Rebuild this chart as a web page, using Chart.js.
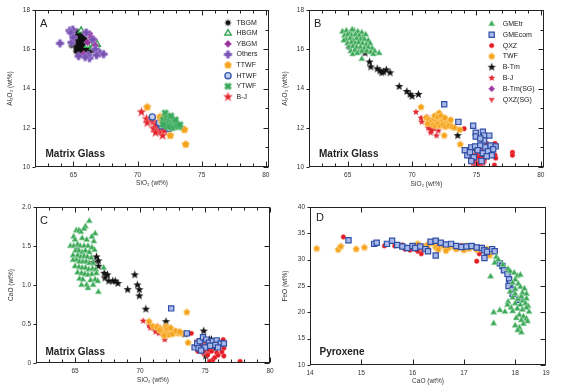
<!DOCTYPE html>
<html>
<head>
<meta charset="utf-8">
<script src="https://cdn.jsdelivr.net/npm/chart.js@4.4.0/dist/chart.umd.min.js"></script>
<style>
  body { margin: 0; background: #fff; }
  #wrap { position: relative; width: 567px; height: 387px; overflow: hidden; background: #fff; }
  canvas { position: absolute; }
</style>
</head>
<body>
<div id="wrap">
  <canvas id="chartA" width="283" height="193" style="left:0;top:0"></canvas>
  <canvas id="chartB" width="291" height="193" style="left:276px;top:0"></canvas>
  <canvas id="chartC" width="283" height="194" style="left:0;top:193px"></canvas>
  <canvas id="chartD" width="291" height="194" style="left:276px;top:193px"></canvas>
</div>
<script>
// ---- tick values / labels ----
const sio2Ticks = [65, 70, 75, 80];
const al2o3Ticks = [10, 12, 14, 16, 18];
const caoGlassTicks = [0, 0.5, 1.0, 1.5, 2.0];
const caoGlassLabels = ['0', '0.5', '1.0', '1.5', '2.0'];
const caoPyxTicks = [14, 15, 16, 17, 18, 18.6];
const caoPyxLabels = ['14', '15', '16', '17', '18', '19'];
const feoTicks = [10, 15, 20, 25, 30, 35, 40];

// ---- panel A: SiO2 vs Al2O3 (matrix glass) ----
const aTBGM = [[65.3,16.9],[65.5,16.8],[65.2,16.7],[65.6,16.7],[65.4,16.6],[65.8,16.6],[65.3,16.5],[65.6,16.5],[65.9,16.5],[65.2,16.4],[65.5,16.4],[65.7,16.4],[66.4,16.45],[65.3,16.3],[65.6,16.3],[65.9,16.3],[64.85,16.2],[65.4,16.2],[65.7,16.2],[66.0,16.2],[65.2,16.1],[65.5,16.1],[65.8,16.1],[66.1,16.1],[65.3,16.0],[65.6,16.0],[65.9,16.0],[66.2,16.0],[65.2,15.9],[65.5,15.9],[65.8,15.9],[66.3,15.9],[65.4,15.8],[65.7,15.8],[66.0,15.8],[65.6,15.75],[66.6,15.95],[65.1,16.55]];
const aHBGM = [[65.6,16.95],[66.3,16.25],[66.85,16.25],[67.0,15.85],[66.5,16.1],[66.1,16.2]];
const aYBGM = [[65.95,16.85],[66.25,16.8],[66.6,16.5],[66.4,16.6],[65.8,15.75],[66.1,16.35],[66.7,16.2]];
const aOthers = [[63.95,16.3],[64.7,16.95],[64.95,17.0],[64.85,16.35],[64.8,16.85],[66.0,16.85],[66.25,15.55],[66.15,15.7],[66.7,16.0],[67.05,15.8],[67.35,15.75],[65.9,15.6],[65.0,16.6],[66.5,16.5],[65.4,15.65],[66.8,15.7]];
const aTTWF = [[70.75,13.05],[73.65,11.9],[73.75,11.15],[72.55,11.6],[71.75,12.55],[71.9,12.35],[72.0,12.5]];
const aHTWF = [[71.15,12.55],[71.9,12.4],[72.45,11.95],[71.85,12.1],[71.7,12.25],[72.1,12.2]];
const aYTWF = [[72.15,12.75],[72.0,12.4],[72.3,12.5],[72.5,12.45],[72.7,12.4],[72.4,12.3],[72.6,12.25],[72.9,12.3],[72.2,12.2],[72.8,12.15],[73.0,12.2],[72.5,12.1],[73.2,12.05],[72.7,12.0],[73.1,12.1],[72.35,12.05],[72.0,12.15],[72.95,12.4],[72.6,12.6],[73.3,12.15]];
const aBJ = [[70.3,12.8],[70.7,12.45],[70.75,12.25],[71.2,12.3],[71.35,12.0],[71.5,11.85],[71.75,11.8],[71.95,11.6],[71.55,12.1],[71.25,11.95],[71.4,11.75],[71.8,11.95],[71.65,12.25],[71.1,12.45],[72.1,11.85],[71.45,12.15]];

// ---- panel B: SiO2 vs Al2O3 ----
const bGMEtr = [[64.6,16.9],[64.9,16.95],[65.2,16.85],[65.5,16.95],[65.8,16.9],[66.1,16.85],[65.35,17.0],[64.75,16.7],[65.0,16.75],[65.3,16.7],[65.6,16.75],[65.9,16.7],[66.2,16.65],[66.4,16.75],[64.9,16.5],[65.2,16.55],[65.45,16.45],[65.7,16.55],[66.0,16.5],[66.3,16.5],[66.6,16.45],[64.7,16.45],[65.0,16.3],[65.3,16.35],[65.6,16.3],[65.85,16.35],[66.15,16.3],[66.45,16.25],[66.75,16.3],[65.1,16.1],[65.4,16.15],[65.7,16.1],[66.0,16.1],[66.3,16.05],[66.6,16.1],[66.9,16.05],[65.25,15.9],[65.55,15.95],[65.85,15.85],[66.1,15.9],[66.5,15.9],[66.8,15.85],[67.1,15.9],[67.45,15.8],[65.4,15.75],[65.75,15.8],[66.1,15.5],[67.0,15.75]];
const bGMEcom = [[72.5,13.2],[73.6,12.3],[74.75,12.1],[74.95,11.75],[74.95,11.55],[75.5,11.8],[75.6,11.6],[76.0,11.6],[75.6,11.35],[75.3,11.45],[74.1,10.85],[74.3,10.6],[74.6,11.0],[74.9,11.05],[75.3,11.1],[75.7,11.0],[76.1,11.1],[76.5,11.05],[76.3,10.9],[75.9,10.8],[74.5,10.75],[75.1,10.85],[75.5,10.7],[76.2,10.6],[74.8,10.5],[75.8,10.55],[74.6,10.3],[75.4,10.3]];
const bQXZ = [[74.05,11.95],[76.45,11.2],[76.5,11.05],[77.8,10.75],[77.8,10.6],[76.45,10.6],[76.5,10.45],[76.4,10.1],[74.4,10.85],[75.05,10.9],[75.4,11.0],[75.8,11.2],[75.0,10.6],[74.9,10.4],[75.2,10.5],[75.6,10.4],[74.7,10.6],[75.3,10.2],[74.75,10.25],[75.1,10.15],[74.3,10.8]];
const bTWF = [[70.7,13.05],[72.1,12.75],[71.1,12.5],[71.3,12.4],[71.5,12.3],[71.7,12.45],[71.9,12.35],[72.1,12.3],[72.3,12.4],[72.5,12.35],[72.7,12.3],[72.9,12.25],[71.6,12.15],[71.8,12.1],[72.0,12.2],[72.2,12.1],[72.4,12.15],[72.6,12.05],[72.85,12.1],[73.1,12.05],[73.3,12.0],[71.75,12.6],[72.0,12.55],[72.25,12.6],[72.55,12.5],[72.5,11.6],[73.7,11.9],[73.75,11.15],[71.2,12.2],[73.0,12.4]];
const bBTm = [[66.35,15.8],[66.7,15.35],[66.8,15.1],[67.3,15.0],[67.5,14.9],[67.65,14.8],[68.0,14.95],[68.3,14.8],[67.8,14.85],[69.0,14.1],[69.6,13.85],[69.85,13.7],[70.0,13.6],[70.5,13.7],[72.05,12.45],[73.55,11.6],[75.2,10.7],[75.4,10.55],[75.6,10.45],[75.8,10.55],[75.15,11.05],[75.0,10.8],[75.5,10.6]];
const bBJ = [[70.3,12.8],[70.7,12.5],[70.75,12.3],[71.15,12.55],[71.3,12.3],[71.35,12.0],[71.5,11.85],[71.7,11.95],[71.9,11.6],[72.05,11.85],[71.6,12.1],[71.25,12.0],[71.45,11.75],[71.85,12.15]];
const bBTmSG = [[65.1,16.1],[74.9,10.25],[75.2,10.2],[75.05,10.35],[75.4,10.25],[74.75,10.4]];
const bQXZSG = [[74.6,10.5],[74.8,10.6],[75.0,10.55],[75.2,10.4],[74.7,10.35],[74.9,10.3],[75.1,10.3],[75.3,10.35],[75.5,10.3],[74.8,10.15],[75.0,10.1],[75.2,10.15],[75.4,10.15],[74.65,10.2],[75.6,10.2],[75.0,10.45],[74.85,10.05],[75.35,10.05],[75.15,10.6],[74.55,10.35],[74.95,10.2],[75.25,10.25],[74.75,10.45]];

// ---- panel C: SiO2 vs CaO (matrix glass) ----
const cGMEtr = [[66.1,1.82],[65.8,1.75],[65.7,1.72],[65.1,1.7],[65.3,1.7],[65.45,1.68],[66.55,1.66],[66.3,1.62],[64.9,1.62],[65.0,1.58],[65.55,1.6],[65.9,1.58],[66.45,1.56],[64.65,1.5],[64.9,1.5],[65.2,1.52],[65.4,1.5],[65.7,1.5],[66.0,1.5],[66.3,1.48],[65.05,1.44],[65.3,1.44],[65.55,1.42],[65.8,1.44],[66.1,1.42],[66.5,1.45],[64.85,1.38],[65.2,1.38],[65.45,1.36],[65.7,1.37],[65.95,1.36],[66.25,1.35],[65.1,1.32],[65.35,1.3],[65.6,1.3],[65.85,1.3],[66.1,1.28],[66.4,1.28],[64.85,1.32],[65.0,1.24],[65.3,1.23],[65.55,1.22],[65.8,1.22],[66.05,1.2],[66.35,1.21],[66.6,1.2],[67.2,1.22],[65.2,1.16],[65.5,1.15],[65.75,1.14],[66.0,1.13],[66.3,1.14],[66.65,1.15],[65.35,1.08],[65.6,1.07],[66.2,1.06],[66.55,1.07],[65.9,1.0],[66.4,1.0],[65.5,1.0],[66.8,0.91],[66.0,0.96],[66.75,1.05]];
const cGMEcom = [[72.4,0.7],[73.6,0.38],[74.2,0.2],[74.4,0.25],[74.6,0.28],[74.85,0.33],[75.1,0.3],[75.3,0.26],[75.6,0.28],[75.9,0.29],[76.2,0.25],[76.45,0.25],[74.5,0.19],[75.0,0.2],[75.4,0.22],[75.8,0.23],[76.0,0.2],[74.7,0.16]];
const cQXZ = [[73.95,0.38],[77.7,0.02],[76.4,0.3],[76.45,0.19],[76.45,0.09],[75.9,0.13],[75.6,0.04],[75.35,0.02],[75.75,0.07],[74.3,0.2],[74.6,0.22],[74.9,0.15],[75.1,0.22],[75.3,0.17],[74.75,0.28],[75.5,0.15],[76.0,0.1],[76.3,0.14],[74.45,0.15],[75.2,0.1]];
const cTWF = [[70.7,0.53],[73.6,0.65],[73.7,0.26],[71.0,0.47],[71.3,0.46],[71.55,0.44],[71.8,0.43],[72.0,0.47],[72.2,0.42],[72.45,0.41],[72.7,0.39],[72.95,0.38],[73.2,0.38],[71.7,0.4],[71.95,0.38],[72.2,0.36],[72.5,0.37],[71.5,0.42],[72.1,0.44],[72.35,0.45],[71.85,0.35],[72.75,0.41],[73.05,0.4]];
const cBTm = [[66.65,1.36],[66.4,1.29],[66.8,1.31],[66.8,1.24],[67.25,1.15],[67.5,1.13],[67.3,1.09],[67.6,1.05],[67.9,1.05],[68.1,1.05],[68.3,1.02],[69.05,0.94],[69.6,1.13],[69.8,1.0],[69.95,0.94],[69.95,0.86],[70.45,0.69],[72.0,0.53],[73.45,0.37],[74.9,0.41],[75.35,0.3],[75.5,0.3],[75.65,0.24],[75.8,0.19],[75.05,0.09]];
const cBJ = [[70.25,0.54],[70.7,0.48],[71.1,0.45],[71.25,0.43],[71.5,0.44],[71.35,0.47],[71.9,0.3],[71.8,0.39],[70.8,0.45],[71.6,0.41],[71.2,0.4],[71.45,0.38]];
const cBTmSG = [[65.15,1.46],[74.7,0.18],[74.9,0.22],[74.6,0.24]];
const cQXZSG = [[74.4,0.28],[74.6,0.25],[74.8,0.22],[75.0,0.25],[75.2,0.2],[75.4,0.22],[74.5,0.18],[74.7,0.15],[74.9,0.18],[75.1,0.14],[75.3,0.13],[74.65,0.3],[74.95,0.29],[75.5,0.18],[74.85,0.12],[75.2,0.27]];

// ---- panel D: CaO vs FeO (pyroxene) ----
const dGMEtr = [[17.63,30.5],[17.67,30.0],[17.6,29.4],[17.76,29.0],[17.86,28.2],[17.9,27.8],[17.98,27.5],[18.04,26.9],[17.52,26.8],[18.1,27.1],[18.0,26.2],[17.95,25.6],[18.06,25.4],[18.1,24.8],[18.18,24.5],[17.9,23.9],[18.0,23.5],[18.14,23.7],[18.22,23.5],[17.95,22.8],[18.06,22.5],[18.16,22.2],[18.22,22.6],[17.86,22.0],[18.0,21.7],[18.1,21.4],[18.2,21.7],[18.25,21.2],[17.92,20.9],[18.04,20.7],[18.14,20.5],[18.22,20.9],[18.27,20.1],[17.58,20.0],[17.7,20.4],[17.8,20.1],[17.95,20.2],[18.08,19.5],[18.16,19.2],[18.02,18.9],[18.12,18.5],[18.22,18.8],[17.58,17.9],[18.0,17.5],[18.08,17.1],[18.05,16.6],[18.12,16.2],[18.16,17.8],[18.24,18.3],[17.85,21.4],[18.12,23.0],[18.0,24.4]];
const dGMEcom = [[14.75,33.7],[15.25,33.0],[15.3,33.2],[15.5,33.0],[15.6,33.6],[15.7,32.8],[15.8,32.5],[15.9,32.2],[16.0,32.6],[16.05,32.2],[16.15,32.5],[16.25,32.0],[16.3,31.6],[16.45,30.8],[16.35,33.4],[16.45,33.6],[16.55,33.2],[16.65,32.9],[16.75,33.0],[16.85,32.6],[16.95,32.4],[17.05,32.5],[17.15,32.6],[17.25,32.3],[17.35,32.2],[17.4,31.8],[17.45,31.5],[17.55,32.0],[17.6,31.6],[17.4,30.3],[17.7,29.3],[17.75,28.8],[17.78,28.0],[17.85,27.3],[17.88,26.3],[17.9,25.5],[17.87,25.0],[17.95,24.3],[17.95,23.5],[18.08,22.4]];
const dQXZ = [[14.65,34.3],[15.45,32.6],[15.65,32.6],[15.8,32.8],[15.9,32.3],[15.95,31.8],[16.0,32.5],[16.05,32.0],[16.1,32.8],[16.1,31.6],[16.15,32.3],[16.2,31.9],[16.25,32.6],[16.17,31.1],[16.3,32.1],[16.7,32.8],[16.5,32.6],[16.95,32.7],[17.25,29.7],[17.3,31.1],[17.0,32.5],[15.85,32.0]];
const dTWF = [[14.13,32.1],[14.55,31.9],[14.6,32.5],[14.9,32.0],[15.06,32.3],[16.1,33.0],[16.3,32.9],[16.45,32.3],[16.5,31.9],[16.6,32.6],[16.7,32.2],[16.8,32.5],[16.85,32.0],[16.95,32.3],[17.0,31.8],[17.1,32.1],[17.2,32.4],[17.25,31.9],[17.35,32.2],[17.45,32.0],[17.5,30.8],[16.2,32.4],[16.65,31.7],[17.05,32.6],[16.4,33.1]];

const legendA = ['TBGM', 'HBGM', 'YBGM', 'Others', 'TTWF', 'HTWF', 'YTWF', 'B-J'];
const legendB = ['GMEtr', 'GMEcom', 'QXZ', 'TWF', 'B-Tm', 'B-J', 'B-Tm(SG)', 'QXZ(SG)'];

const FONT = '"Liberation Sans", Arial, Helvetica, sans-serif';

// custom marker glyphs (pentagon, stars, plus, x) drawn into small canvases
function marker(kind, r, fill, stroke, lw) {
  lw = lw || 0;
  const s = Math.ceil(r * 2 + lw + 2);
  const c = document.createElement('canvas');
  c.width = s; c.height = s;
  const g = c.getContext('2d');
  g.translate(s / 2, s / 2);
  g.beginPath();
  if (kind === 'star5' || kind === 'burst') {
    const n = kind === 'star5' ? 5 : 8;
    const inner = kind === 'star5' ? 0.42 : 0.5;
    for (let i = 0; i < n * 2; i++) {
      const a = -Math.PI / 2 + i * Math.PI / n;
      const rr = i % 2 ? r * inner : r;
      g.lineTo(rr * Math.cos(a), rr * Math.sin(a));
    }
  } else if (kind === 'pent') {
    for (let i = 0; i < 5; i++) {
      const a = -Math.PI / 2 + i * 2 * Math.PI / 5;
      g.lineTo(r * Math.cos(a), r * Math.sin(a));
    }
  } else {
    if (kind === 'x') g.rotate(Math.PI / 4);
    const w = r * 0.4;
    const p = [[-w,-r],[w,-r],[w,-w],[r,-w],[r,w],[w,w],[w,r],[-w,r],[-w,w],[-r,w],[-r,-w],[-w,-w]];
    p.forEach(q => g.lineTo(q[0], q[1]));
  }
  g.closePath();
  g.fillStyle = fill;
  g.fill();
  if (stroke) { g.strokeStyle = stroke; g.lineWidth = lw; g.stroke(); }
  return c;
}

function ds(label, data, st) {
  return {
    label: label, data: data,
    pointStyle: st.style, pointRadius: st.r || 3, pointRotation: st.rot || 0,
    pointBackgroundColor: st.bg || '#000', pointBorderColor: st.bc || st.bg || '#000',
    pointBorderWidth: st.bw || 0
  };
}

const S = {
  tbgm:   { style: marker('burst', 3.9, '#111') },
  hbgm:   { style: 'triangle', r: 3.8, bg: '#e2f4e6', bc: '#2e9e4f', bw: 1.3 },
  ybgm:   { style: 'rectRot', r: 3.6, bg: '#982d9c', bc: '#c783c9', bw: 0.6 },
  others: { style: marker('plus', 3.8, '#7852b3', '#ad92d8', 0.6) },
  twfA:   { style: marker('pent', 3.9, '#f5a21e', '#fdd27c', 0.8) },
  htwf:   { style: 'circle', r: 3.1, bg: '#c5d2f0', bc: '#3a5bb0', bw: 1.4 },
  ytwf:   { style: marker('x', 3.8, '#37a85a', '#8ed3a2', 0.5) },
  bjA:    { style: marker('star5', 4.8, '#e0232b', '#f4878b', 0.5) },
  gmetr:  { style: 'triangle', r: 3.6, bg: '#3ca858', bc: '#9ad6a8', bw: 0.7 },
  gmecom: { style: 'rect', r: 3.7, bg: '#a9baea', bc: '#2f4ea5', bw: 1.2 },
  qxz:    { style: 'circle', r: 2.4, bg: '#e31b24', bc: '#f26b70', bw: 0.5 },
  twf:    { style: marker('pent', 3.4, '#f5a21e', '#fdd27c', 0.8) },
  btm:    { style: marker('star5', 4.4, '#111') },
  bj:     { style: marker('star5', 3.8, '#e0232b') },
  btmsg:  { style: 'rectRot', r: 3.2, bg: '#9c3ea6', bc: '#c58bcb', bw: 0.5 },
  qxzsg:  { style: 'triangle', r: 3.3, rot: 180, bg: '#e7434d', bc: '#f08c92', bw: 0.5 }
};

const framePlugin = {
  id: 'frame',
  afterDatasetsDraw(chart, args, o) {
    const { ctx, chartArea: a, scales: { x, y } } = chart;
    ctx.save();
    ctx.strokeStyle = '#222';
    ctx.lineWidth = 1;
    const L = Math.round(a.left) + 0.5, R = Math.round(a.right) - 0.5;
    const T = Math.round(a.top) + 0.5, B = Math.round(a.bottom) - 0.5;
    ctx.strokeRect(L, T, R - L, B - T);
    ctx.beginPath();
    const near = (v, list) => list.some(t => Math.abs(t - v) < 1e-6);
    for (let v = o.xMinor[0]; v <= o.xMinor[1] + 1e-6; v += o.xMinor[2]) {
      const px = Math.round(x.getPixelForValue(v)) + 0.5;
      const len = near(v, o.xMajor) ? 5 : 3;
      ctx.moveTo(px, B); ctx.lineTo(px, B - len);
      ctx.moveTo(px, T); ctx.lineTo(px, T + len);
    }
    for (let v = o.yMinor[0]; v <= o.yMinor[1] + 1e-6; v += o.yMinor[2]) {
      const py = Math.round(y.getPixelForValue(v)) + 0.5;
      const major = near(v, o.yMajor);
      ctx.moveTo(R, py); ctx.lineTo(R - (major ? 5 : 3), py);
      if (major) { ctx.moveTo(L, py); ctx.lineTo(L - 3, py); }
    }
    ctx.stroke();

    ctx.fillStyle = '#222';
    ctx.textBaseline = 'middle';
    ctx.font = '11px ' + FONT;
    ctx.fillText(o.letter[0], o.letter[1], o.letter[2]);
    ctx.textBaseline = 'alphabetic';
    ctx.font = 'bold 10px ' + FONT;
    ctx.fillText(o.name[0], o.name[1], o.name[2]);

    if (o.legend) {
      const lg = o.legend;
      ctx.font = '7px ' + FONT;
      ctx.textBaseline = 'middle';
      lg.items.forEach((name, i) => {
        const d = chart.data.datasets.find(e => e.label === name);
        const yy = lg.y + i * lg.dy;
        ctx.fillStyle = d.pointBackgroundColor;
        ctx.strokeStyle = d.pointBorderColor;
        ctx.lineWidth = d.pointBorderWidth;
        Chart.helpers.drawPoint(ctx, {
          pointStyle: d.pointStyle, radius: d.pointRadius,
          rotation: d.pointRotation, borderWidth: d.pointBorderWidth
        }, lg.mx, yy);
        ctx.fillStyle = '#222';
        ctx.fillText(name, lg.tx, yy);
      });
    }
    ctx.restore();
  }
};

function makeChart(id, c) {
  const tickFont = { family: FONT, size: 6.5 };
  return new Chart(document.getElementById(id), {
    type: 'scatter',
    data: { datasets: c.datasets },
    options: {
      responsive: false,
      animation: false,
      events: [],
      layout: { padding: { top: c.area[1], right: c.w - c.area[2], left: 0, bottom: 0 } },
      scales: {
        x: {
          type: 'linear', min: c.x[0], max: c.x[1],
          afterBuildTicks: s => { s.ticks = c.xTicks.map(v => ({ value: v })); },
          afterFit: s => { s.height = c.h - c.area[3]; },
          grid: { display: false, drawTicks: false }, border: { display: false },
          ticks: { padding: 4, autoSkip: false, maxRotation: 0, color: '#333', font: tickFont,
                   callback: (v, i) => c.xLabels[i] },
          title: { display: true, text: c.xTitle, color: '#333', font: tickFont,
                   padding: { top: 0, bottom: c.xtp } }
        },
        y: {
          type: 'linear', min: c.y[0], max: c.y[1],
          afterBuildTicks: s => { s.ticks = c.yTicks.map(v => ({ value: v })); },
          afterFit: s => { s.width = c.area[0]; },
          grid: { display: false, drawTicks: false }, border: { display: false },
          ticks: { padding: 5, autoSkip: false, color: '#333', font: tickFont,
                   callback: (v, i) => c.yLabels[i] },
          title: { display: true, text: c.yTitle, color: '#333', font: tickFont,
                   padding: { top: c.ytp, bottom: 0 } }
        }
      },
      plugins: { legend: { display: false }, tooltip: { enabled: false }, frame: c.frame }
    },
    plugins: [framePlugin]
  });
}

makeChart('chartA', {
  w: 283, h: 193, area: [35, 10, 269, 167], x: [62, 80.25], y: [10, 18],
  xTicks: sio2Ticks, xLabels: sio2Ticks.map(String), yTicks: al2o3Ticks, yLabels: al2o3Ticks.map(String),
  xTitle: 'SiO₂ (wt%)', yTitle: 'Al₂O₃ (wt%)', xtp: 6, ytp: 6,
  datasets: [
    ds('YTWF', aYTWF, S.ytwf), ds('TTWF', aTTWF, S.twfA), ds('HTWF', aHTWF, S.htwf), ds('B-J', aBJ, S.bjA),
    ds('Others', aOthers, S.others), ds('YBGM', aYBGM, S.ybgm), ds('HBGM', aHBGM, S.hbgm), ds('TBGM', aTBGM, S.tbgm)
  ],
  frame: { xMinor: [63, 80, 1], xMajor: sio2Ticks, yMinor: [10, 18, 1], yMajor: al2o3Ticks,
           letter: ['A', 40, 24], name: ['Matrix Glass', 45.5, 157],
           legend: { items: legendA, mx: 228, tx: 236.5, y: 22.7, dy: 10.6 } }
});

makeChart('chartB', {
  w: 291, h: 193, area: [33, 10, 268, 167], x: [62, 80.25], y: [10, 18],
  xTicks: sio2Ticks, xLabels: sio2Ticks.map(String), yTicks: al2o3Ticks, yLabels: al2o3Ticks.map(String),
  xTitle: 'SiO₂ (wt%)', yTitle: 'Al₂O₃ (wt%)', xtp: 5, ytp: 5,
  datasets: [
    ds('GMEtr', bGMEtr, S.gmetr), ds('GMEcom', bGMEcom, S.gmecom), ds('TWF', bTWF, S.twf), ds('QXZ', bQXZ, S.qxz),
    ds('QXZ(SG)', bQXZSG, S.qxzsg), ds('B-Tm(SG)', bBTmSG, S.btmsg), ds('B-J', bBJ, S.bj), ds('B-Tm', bBTm, S.btm)
  ],
  frame: { xMinor: [63, 80, 1], xMajor: sio2Ticks, yMinor: [10, 18, 1], yMajor: al2o3Ticks,
           letter: ['B', 38, 24], name: ['Matrix Glass', 43, 157],
           legend: { items: legendB, mx: 215.7, tx: 226.7, y: 24, dy: 10.8 } }
});

makeChart('chartC', {
  w: 283, h: 194, area: [36, 14, 270, 170], x: [62, 80], y: [0, 2],
  xTicks: sio2Ticks, xLabels: sio2Ticks.map(String), yTicks: caoGlassTicks, yLabels: caoGlassLabels,
  xTitle: 'SiO₂ (wt%)', yTitle: 'CaO (wt%)', xtp: 2.5, ytp: 7.5,
  datasets: [
    ds('GMEtr', cGMEtr, S.gmetr), ds('GMEcom', cGMEcom, S.gmecom), ds('TWF', cTWF, S.twf), ds('QXZ', cQXZ, S.qxz),
    ds('QXZ(SG)', cQXZSG, S.qxzsg), ds('B-Tm(SG)', cBTmSG, S.btmsg), ds('B-J', cBJ, S.bj), ds('B-Tm', cBTm, S.btm)
  ],
  frame: { xMinor: [63, 80, 1], xMajor: sio2Ticks, yMinor: [0, 2, 0.5], yMajor: caoGlassTicks,
           letter: ['C', 40, 28], name: ['Matrix Glass', 45.5, 161.5] }
});

makeChart('chartD', {
  w: 291, h: 194, area: [34, 14, 270, 172], x: [14, 18.6], y: [10, 40],
  xTicks: caoPyxTicks, xLabels: caoPyxLabels, yTicks: feoTicks, yLabels: feoTicks.map(String),
  xTitle: 'CaO (wt%)', yTitle: 'FeO (wt%)', xtp: 2, ytp: 5,
  datasets: [
    ds('GMEtr', dGMEtr, S.gmetr), ds('GMEcom', dGMEcom, S.gmecom), ds('TWF', dTWF, S.twf), ds('QXZ', dQXZ, S.qxz)
  ],
  frame: { xMinor: [14, 18, 1], xMajor: [14, 15, 16, 17, 18], yMinor: [10, 40, 5], yMajor: feoTicks,
           letter: ['D', 40, 25], name: ['Pyroxene', 43.5, 161.5] }
});
</script>
</body>
</html>
